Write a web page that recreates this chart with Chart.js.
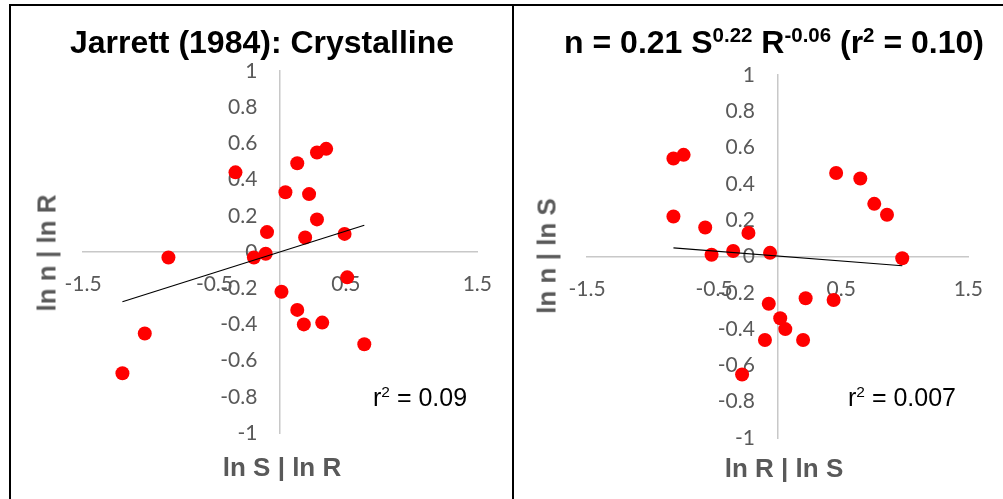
<!DOCTYPE html>
<html>
<head>
<meta charset="utf-8">
<script src="https://cdn.jsdelivr.net/npm/chart.js@4.4.0/dist/chart.umd.min.js"></script>
<style>
body { margin: 0; background: #fff; width: 1003px; height: 499px; overflow: hidden; position: relative; font-family: "Liberation Sans", Arial, sans-serif; }
.frame { position: absolute; left: 9px; top: 4px; width: 994px; height: 495px; border-top: 2px solid #000; border-left: 2px solid #000; }
.divider { position: absolute; left: 512px; top: 4px; width: 2px; height: 495px; background: #000; }
canvas { position: absolute; top: 6px; }
#leftChart { left: 11px; }
#rightChart { left: 514px; }
.title { position: absolute; font-weight: bold; font-size: 32px; color: #000; white-space: nowrap; transform: translate(-50%, -50%); }
.title sup { font-size: 0.64em; vertical-align: 0.5em; line-height: 0; }
.axt { position: absolute; font-weight: bold; font-size: 26px; color: #595959; white-space: nowrap; transform: translate(-50%, -50%); }
.axt.y { transform: translate(-50%, -50%) rotate(-90deg); }
.r2 { position: absolute; font-size: 25px; color: #000; white-space: nowrap; transform: translateY(-50%); }
.r2 sup { font-size: 0.62em; vertical-align: 0.55em; line-height: 0; }
</style>
</head>
<body>
<div class="frame"></div>
<div class="divider"></div>
<canvas id="leftChart" width="501" height="493"></canvas>
<canvas id="rightChart" width="489" height="493"></canvas>

<div class="title" style="left:262px; top:42px;">Jarrett (1984): Crystalline</div>
<div class="title" style="left:774px; top:42px;">n = 0.21 S<sup>0.22</sup> R<sup>-0.06</sup> (r<sup>2</sup> = 0.10)</div>

<div class="axt" style="left:282px; top:467px;">ln S | ln R</div>
<div class="axt y" style="left:47px; top:253px;">ln n | ln R</div>
<div class="axt" style="left:784px; top:468px;">ln R | ln S</div>
<div class="axt y" style="left:547px; top:256px;">ln n | ln S</div>

<div class="r2" style="left:373px; top:397px;">r<sup>2</sup> = 0.09</div>
<div class="r2" style="left:848px; top:397px;">r<sup>2</sup> = 0.007</div>

<script>
// tick labels (same for both panels)
const xTicks = [-1.5, -0.5, 0.5, 1.5];
const yTicks = [-1, -0.8, -0.6, -0.4, -0.2, 0, 0.2, 0.4, 0.6, 0.8, 1];

// left panel: ln n | ln R against ln S | ln R
const leftX = [-0.34, 0.13, 0.28, 0.35, 0.04, 0.22, 0.28, -0.10, 0.19, 0.49, -0.20, -0.11, -0.85, 0.51, 0.01, 0.13, 0.18, 0.32, 0.64, -1.03, -1.20];
const leftY = [0.44, 0.49, 0.55, 0.57, 0.33, 0.32, 0.18, 0.11, 0.08, 0.10, -0.03, -0.01, -0.03, -0.14, -0.22, -0.32, -0.40, -0.39, -0.51, -0.45, -0.67];
const leftTrendX = [-1.20, 0.64];
const leftTrendY = [-0.275, 0.148];

// right panel: ln n | ln S against ln R | ln S
const rightX = [-0.82, -0.74, 0.46, 0.65, 0.76, 0.86, -0.82, -0.57, -0.23, -0.52, -0.35, -0.06, 0.98, -0.07, 0.22, 0.44, 0.02, 0.06, -0.10, 0.20, -0.28];
const rightY = [0.54, 0.56, 0.46, 0.43, 0.29, 0.23, 0.22, 0.16, 0.13, 0.01, 0.03, 0.02, -0.01, -0.26, -0.23, -0.24, -0.34, -0.40, -0.46, -0.46, -0.65];
const rightTrendX = [-0.82, 0.98];
const rightTrendY = [0.048, -0.051];

function toPoints(xs, ys) {
    return xs.map((x, i) => ({ x: x, y: ys[i] }));
}

// Excel style numbers: 1, 0.8, 0, -0.5
function fmt(v) {
    return String(Math.round(v * 10) / 10);
}

function makeChart(id, xs, ys, tx, ty, pad) {
    const ctx = document.getElementById(id).getContext('2d');
    return new Chart(ctx, {
        type: 'scatter',
        data: {
            datasets: [{
                data: toPoints(xs, ys),
                backgroundColor: '#FF0000',
                borderWidth: 0,
                pointRadius: 7,
                order: 2
            }, {
                data: toPoints(tx, ty),
                showLine: true,
                borderColor: '#000000',
                borderWidth: 1.2,
                pointRadius: 0,
                order: 1
            }]
        },
        options: {
            responsive: false,
            animation: false,
            devicePixelRatio: 1,
            layout: { padding: pad },
            plugins: { legend: { display: false }, tooltip: { enabled: false } },
            scales: {
                x: {
                    type: 'linear',
                    min: -1.5, max: 1.5,
                    position: { y: 0 },
                    afterBuildTicks: s => { s.ticks = xTicks.map(v => ({ value: v })); },
                    grid: { display: false, drawTicks: false },
                    border: { display: true, color: '#C8C8C8', width: 1.5 },
                    ticks: { padding: 20, color: '#595959', font: { family: 'Lato', size: 21 }, callback: v => fmt(v) }
                },
                y: {
                    type: 'linear',
                    min: -1, max: 1,
                    position: { x: 0 },
                    afterBuildTicks: s => { s.ticks = yTicks.map(v => ({ value: v })); },
                    grid: { display: false, drawTicks: false },
                    border: { display: true, color: '#C8C8C8', width: 1.5 },
                    // label sits right on the axis when it is placed at x=0, so pad with spaces
                    ticks: { color: '#595959', font: { family: 'Lato', size: 21 }, callback: v => fmt(v) + '\u2003\u2004' }
                }
            }
        }
    });
}

makeChart('leftChart', leftX, leftY, leftTrendX, leftTrendY, { left: 72, right: 34, top: 65, bottom: 66 });
makeChart('rightChart', rightX, rightY, rightTrendX, rightTrendY, { left: 73, right: 23, top: 69, bottom: 61 });
</script>
</body>
</html>
